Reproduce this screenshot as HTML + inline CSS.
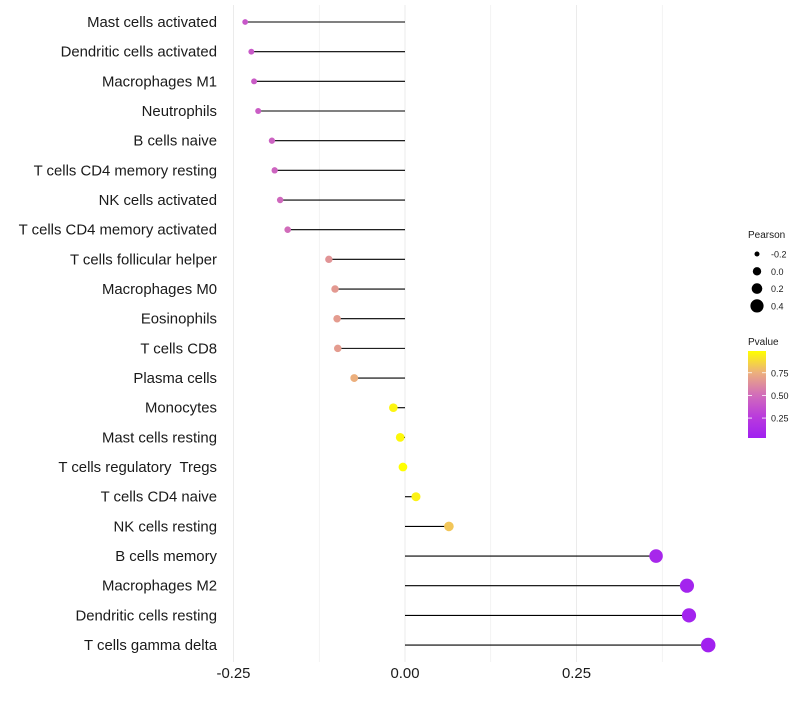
<!DOCTYPE html>
<html><head><meta charset="utf-8"><style>
body{margin:0;background:#fff;font-family:"Liberation Sans",sans-serif}
svg text{font-family:"Liberation Sans",sans-serif;white-space:pre}
</style></head><body>
<svg id="chart" width="800" height="700"></svg>
<script>
const categories=["Mast cells activated","Dendritic cells activated","Macrophages M1","Neutrophils","B cells naive","T cells CD4 memory resting","NK cells activated","T cells CD4 memory activated","T cells follicular helper","Macrophages M0","Eosinophils","T cells CD8","Plasma cells","Monocytes","Mast cells resting","T cells regulatory  Tregs","T cells CD4 naive","NK cells resting","B cells memory","Macrophages M2","Dendritic cells resting","T cells gamma delta"];
const pearson=[-0.233,-0.224,-0.220,-0.214,-0.194,-0.190,-0.182,-0.171,-0.111,-0.102,-0.099,-0.098,-0.074,-0.017,-0.007,-0.003,0.016,0.064,0.366,0.411,0.414,0.442];
const pvalues=[0.40,0.41,0.42,0.43,0.45,0.46,0.48,0.50,0.65,0.67,0.68,0.68,0.75,0.96,0.97,0.99,0.95,0.82,0.09,0.06,0.06,0.04];
const xTicks=[-0.25,0,0.25];
const xTickLabels=["-0.25","0.00","0.25"];
const sizeLegend=[-0.2,0,0.2,0.4];
const sizeLegendLabels=["-0.2","0.0","0.2","0.4"];
const pTicks=[0.25,0.5,0.75];
const pTickLabels=["0.25","0.50","0.75"];

const NS="http://www.w3.org/2000/svg";
const svg=document.getElementById('chart');
function el(t,a,p){const e=document.createElementNS(NS,t);for(const k in a)e.setAttribute(k,a[k]);(p||svg).appendChild(e);return e;}
const x=v=>405+v*686;
const y=i=>22+i*29.67;
const r=v=>Math.max(1.8,4.4+v*6.5);
const stops=[[0,[160,32,240]],[0.25,[186,60,220]],[0.5,[210,110,185]],[0.75,[236,175,125]],[1,[255,255,0]]];
const pmin=0.03,pmax=0.99;
function col(p){let t=(p-pmin)/(pmax-pmin);t=Math.max(0,Math.min(1,t));
 for(let k=1;k<stops.length;k++){if(t<=stops[k][0]){const a=stops[k-1],b=stops[k];const f=(t-a[0])/(b[0]-a[0]);
 const c=a[1].map((v,j)=>Math.round(v+(b[1][j]-v)*f));return `rgb(${c})`;}}return 'rgb(255,255,0)';}

for(let g=-0.25;g<=0.376;g+=0.125){
 const l=el('line',{x1:x(g),x2:x(g),y1:5,y2:662,stroke:'#ebebeb','stroke-width':Math.abs(g*8-Math.round(g*8))<1e-6&&Math.round(g*8)%2===0?1:0.6});
 
 
}
categories.forEach((c,i)=>{
 const t=el('text',{x:217,y:y(i)+5,'text-anchor':'end','font-size':14.9,fill:'#1a1a1a'});
 t.textContent=c;
 
 
 const s=el('line',{x1:x(0),x2:x(pearson[i]),y1:y(i),y2:y(i),stroke:'#000','stroke-width':1.1});
 
 
 const d=el('circle',{cx:x(pearson[i]),cy:y(i),r:r(pearson[i]),fill:col(pvalues[i])});
 
 
});
xTicks.forEach((v,i)=>{
 const t=el('text',{x:x(v),y:678,'text-anchor':'middle','font-size':14.9,fill:'#1a1a1a'});
 t.textContent=xTickLabels[i];
 
 
});
const lt=el('text',{x:748,y:238,'font-size':10,fill:'#1a1a1a'});lt.textContent='Pearson';


sizeLegend.forEach((v,i)=>{
 const cy=254+i*17.3;
 const c=el('circle',{cx:757,cy:cy,r:[2.5,4.2,5.3,6.6][i],fill:'#000'});
 
 
 const t=el('text',{x:771,y:cy+3.5,'font-size':9,fill:'#1a1a1a'});t.textContent=sizeLegendLabels[i];
 
 
});
const pt=el('text',{x:748,y:345,'font-size':10,fill:'#1a1a1a'});pt.textContent='Pvalue';


const defs=el('defs',{});const lg=el('linearGradient',{id:'pg',x1:0,y1:1,x2:0,y2:0},defs);
stops.forEach(s=>el('stop',{offset:s[0],'stop-color':`rgb(${s[1]})`},lg));
const bar=el('rect',{x:748,y:351,width:18,height:87,fill:'url(#pg)'});


const by=p=>438-(p-pmin)/(pmax-pmin)*87;
pTicks.forEach((p,i)=>{
 el('line',{x1:748,x2:752,y1:by(p),y2:by(p),stroke:'#fff','stroke-width':0.8});
 el('line',{x1:762,x2:766,y1:by(p),y2:by(p),stroke:'#fff','stroke-width':0.8});
 const t=el('text',{x:771,y:by(p)+3.5,'font-size':9,fill:'#1a1a1a'});t.textContent=pTickLabels[i];
 
 
});
</script>
</body></html>
